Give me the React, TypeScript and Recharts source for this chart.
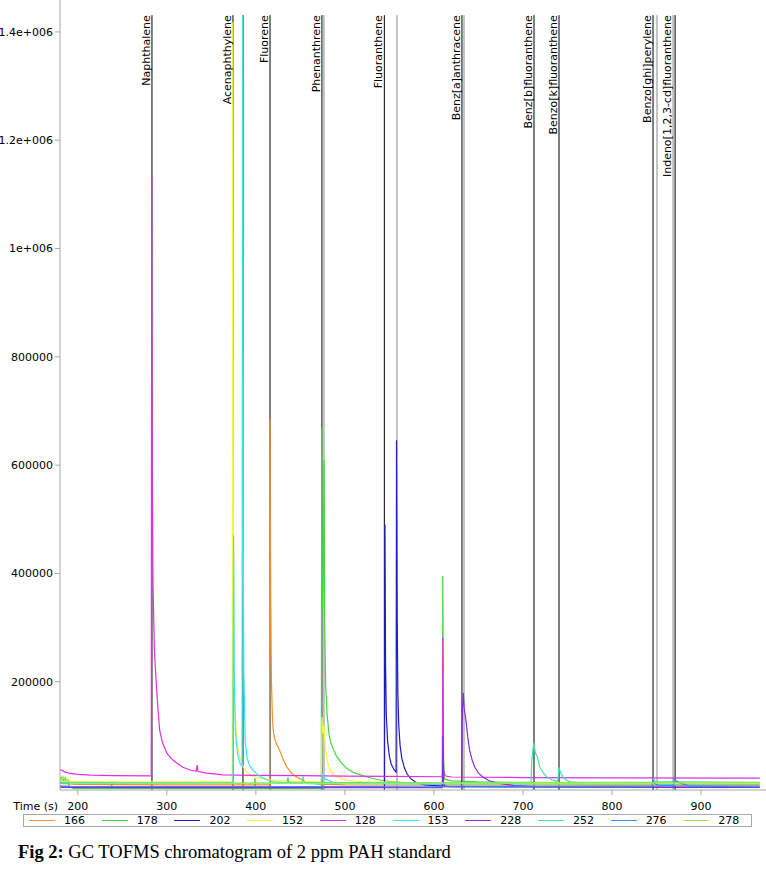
import { LineChart, Line, XAxis, YAxis, ReferenceLine } from "recharts";

// retention time (s) / intensity pairs, one list per m/z trace
const s166: [number, number][] = [
  [180, 12000], [200, 10500], [250, 10000], [300, 9500], [415.5, 9500], [416, 685000], [416.7, 350000],
  [417.5, 200000], [418.5, 140000], [419.5, 110000], [421, 95000], [424, 82000], [427, 72000], [431, 55000],
  [435, 42000], [440, 31000], [446, 24000], [455, 16000], [470, 11000], [500, 9500], [600, 9000], [800, 8500], [966, 8500],
];
const s178: [number, number][] = [
  [180, 20000], [182, 24000], [184, 17000], [186, 22000], [188, 15000], [191, 6000], [195, 3000], [237.5, 3000],
  [238, 15000], [238.6, 3000], [398.5, 3000], [399, 22000], [399.6, 3000], [473.5, 3000], [474, 670000],
  [474.8, 330000], [475.8, 420000], [476.5, 610000], [477.3, 300000], [478.5, 190000], [480, 140000],
  [482, 105000], [484, 88000], [487, 75000], [491, 61000], [496, 50000], [502, 40000], [510, 32000], [525, 24000],
  [540, 18000], [554, 15000], [570, 13000], [588, 12000], [609.5, 11000], [610, 395000], [610.8, 60000],
  [612, 20000], [620, 17000], [650, 15000], [700, 14000], [800, 13000], [966, 12500],
];
const s202: [number, number][] = [
  [180, 7000], [200, 6000], [300, 5500], [544.5, 5500], [545, 490000], [545.7, 230000], [546.5, 140000],
  [548, 90000], [550, 62000], [552, 48000], [555, 38000], [557.5, 33000], [558, 646000], [558.7, 320000],
  [559.5, 180000], [560.5, 120000], [562, 82000], [564, 58000], [567, 40000], [570, 29000], [574, 21000],
  [580, 14000], [590, 9500], [610, 7000], [620, 6000], [700, 5500], [966, 5000],
];
const s152: [number, number][] = [
  [180, 16000], [250, 15000], [373.5, 15000], [374, 1418000], [374.7, 500000], [375.5, 250000], [376.5, 150000],
  [378, 100000], [380, 78000], [382, 61000], [386, 42000], [390, 32000], [396, 26000], [404, 22000], [419, 18000],
  [440, 16000], [473.5, 15000], [474.3, 135000], [475.3, 105000], [476.5, 118000], [478, 80000], [480, 55000],
  [483, 38000], [487, 28000], [495, 22000], [502, 18000], [520, 15000], [600, 13000], [800, 12000], [966, 12000],
];
const s128: [number, number][] = [
  [180, 38000], [185, 34000], [190, 31000], [200, 29000], [215, 27500], [240, 26500], [282.5, 26000],
  [283, 1132000], [283.6, 600000], [284.5, 380000], [286, 260000], [288, 200000], [290, 150000], [292, 110000],
  [295, 88000], [300, 68000], [305, 58000], [311, 50000], [318, 42000], [326, 37000], [333, 34500], [334, 46000],
  [335, 34000], [345, 31000], [363, 28000], [400, 27000], [450, 26500], [500, 25500], [550, 25000],
  [609.5, 24500], [610, 282000], [610.8, 40000], [612, 27000], [615, 25000], [620, 24000], [700, 23000],
  [800, 22500], [966, 22000],
];
const s153: [number, number][] = [
  [180, 14000], [250, 13000], [374.3, 13000], [375, 470000], [375.8, 200000], [377, 110000], [378.5, 80000],
  [380, 62000], [382, 50000], [384.5, 44000], [385, 1430000], [385.7, 500000], [386.5, 220000], [388, 90000],
  [390, 60000], [393, 45000], [397, 36000], [404, 26000], [412, 19000], [420, 15000], [435, 13000],
  [473.5, 11000], [474.5, 30000], [478, 20000], [490, 12000], [600, 11000], [966, 10500],
];
const s228: [number, number][] = [
  [180, 5000], [300, 4500], [609.5, 4500], [610, 100000], [610.8, 15000], [612, 6000], [631, 6000],
  [632, 150000], [633, 179000], [634, 150000], [636, 128000], [638, 98000], [640, 74000], [643, 55000],
  [646, 42000], [650, 31000], [655, 24000], [662, 17000], [671, 13000], [690, 8000], [720, 6000], [966, 5000],
];
const s252: [number, number][] = [
  [180, 13000], [300, 12500], [435, 13000], [436, 24000], [437, 14000], [452, 13000], [453, 25000],
  [454, 14000], [600, 13000], [709, 13000], [710, 55000], [712, 87000], [714, 68000], [716, 62000],
  [719, 42000], [723, 31000], [727, 24000], [732, 19000], [738, 16000], [739.5, 20000], [740.4, 42000],
  [742, 33000], [745, 24000], [749, 18000], [753, 15000], [760, 14000], [846, 14000], [847, 20000],
  [849, 15000], [870, 15000], [966, 14000],
];
const s276: [number, number][] = [
  [180, 6500], [400, 6500], [600, 6000], [845, 6000], [846, 18000], [848, 12000], [852, 9000], [869, 8500],
  [870, 22000], [872, 17000], [876, 13000], [882, 10000], [888, 7000], [966, 6000],
];
const s278: [number, number][] = [
  [180, 22000], [182, 17000], [184, 24000], [186, 16000], [189, 20000], [192, 13000], [200, 12500],
  [300, 12000], [600, 12500], [800, 13000], [966, 13000],
];

const traces = [
  { name: "166", color: "#f0902e", pts: s166 },
  { name: "178", color: "#3ed83e", pts: s178 },
  { name: "202", color: "#1c1cc8", pts: s202 },
  { name: "152", color: "#f6f63a", pts: s152 },
  { name: "128", color: "#e22ee2", pts: s128 },
  { name: "153", color: "#3ce4ee", pts: s153 },
  { name: "228", color: "#8a2be2", pts: s228 },
  { name: "252", color: "#3fe3a2", pts: s252 },
  { name: "276", color: "#3a8ae6", pts: s276 },
  { name: "278", color: "#a4ec4c", pts: s278 },
];

// compound markers (retention time, name; empty name = unlabeled line)
const markerTimes = [283.3, 374.3, 385.5, 415.9, 474.2, 476.5, 544.3, 558.5, 631.5, 633.8, 712.4, 740.5, 846.1, 850.6, 868.6, 870.9];
const markerNames = [
  "Naphthalene", "Acenaphthylene", "", "Fluorene", "Phenanthrene", "", "Fluoranthene", "",
  "Benz[a]anthracene", "", "Benz[b]fluoranthene", "Benzo[k]fluoranthene", "Benzo[ghi]perylene", "",
  "Indeno[1,2,3-cd]fluoranthene", "",
];
const markerSecondary = [false, false, false, false, false, true, false, true, false, true, false, false, false, true, true, false];
const MARKER_TOP = 1431000;

const xTicks = [200, 300, 400, 500, 600, 700, 800, 900];
const yTicks = [200000, 400000, 600000, 800000, 1000000, 1200000, 1400000];

const FONT = "'DejaVu Sans', sans-serif";
const AXIS_GRAY = "#a8a8a8";

const fmtY = (v: number) => (v >= 1000000 ? `${v / 1000000}e+006` : String(v));

const markerLabel = (name: string) => (props: any) => {
  const vb = props.viewBox || {};
  if (!name) return null;
  return (
    <text
      transform={`translate(${vb.x - 2},${vb.y}) rotate(-90)`}
      textAnchor="end"
      fontFamily={FONT}
      fontSize={11}
      fill="#000"
    >
      {name}
    </text>
  );
};

export default function App() {
  return (
    <div style={{ position: "relative", width: 766, height: 875, background: "#fff" }}>
      <style>{`body{margin:0;}`}</style>
      <LineChart width={766} height={822} margin={{ top: 0, right: 0, bottom: 0, left: 0 }}>
        <XAxis
          dataKey="t"
          type="number"
          domain={[180, 973]}
          allowDataOverflow
          ticks={xTicks}
          height={32}
          tickSize={5}
          tickMargin={7}
          stroke={AXIS_GRAY}
          tick={{ fill: "#000", fontSize: 11, fontFamily: FONT }}
          label={{ value: "Time (s)", position: "left", offset: 2, fill: "#000", fontSize: 11, fontFamily: FONT }}
        />
        <YAxis
          type="number"
          domain={[0, 1459000]}
          allowDataOverflow
          ticks={yTicks}
          width={60}
          tickSize={5}
          stroke={AXIS_GRAY}
          tickFormatter={fmtY}
          tick={{ fill: "#000", fontSize: 11, fontFamily: FONT }}
        />
        {markerTimes.map((t, i) => (
          <Line
            key={`mk-${i}`}
            data={[{ t, v: 0 }, { t, v: MARKER_TOP }]}
            dataKey="v"
            type="linear"
            stroke={markerSecondary[i] ? "#8a8a8a" : "#000"}
            strokeWidth={1}
            dot={false}
            activeDot={false}
            legendType="none"
            isAnimationActive={false}
          />
        ))}
        {traces.map((s) => (
          <Line
            key={s.name}
            data={s.pts.map(([t, v]) => ({ t, v }))}
            dataKey="v"
            name={s.name}
            type="linear"
            stroke={s.color}
            strokeWidth={1.2}
            dot={false}
            activeDot={false}
            isAnimationActive={false}
          />
        ))}
        {markerTimes.map((t, i) => (
          <ReferenceLine
            key={`ml-${i}`}
            segment={[{ x: t, y: 0 }, { x: t, y: MARKER_TOP }]}
            stroke="none"
            label={markerLabel(markerNames[i])}
          />
        ))}
      </LineChart>
      <div
        style={{
          position: "absolute",
          left: 23,
          top: 814,
          width: 729,
          height: 13,
          border: `1px solid ${AXIS_GRAY}`,
          display: "flex",
          alignItems: "center",
          fontFamily: FONT,
          fontSize: 11,
          lineHeight: "13px",
          boxSizing: "border-box",
        }}
      >
        {traces.map((s) => (
          <div key={s.name} style={{ width: 73, display: "flex", alignItems: "center", paddingLeft: 5, boxSizing: "border-box" }}>
            <span style={{ display: "inline-block", width: 26, height: 1.5, background: s.color, marginRight: 9 }} />
            <span>{s.name}</span>
          </div>
        ))}
      </div>
      <div
        style={{
          position: "absolute",
          left: 18,
          top: 842,
          fontFamily: "'Liberation Serif', 'Times New Roman', serif",
          fontSize: 18.5,
          color: "#000",
          whiteSpace: "nowrap",
        }}
      >
        <b>Fig 2:</b> GC TOFMS chromatogram of 2 ppm PAH standard
      </div>
    </div>
  );
}
